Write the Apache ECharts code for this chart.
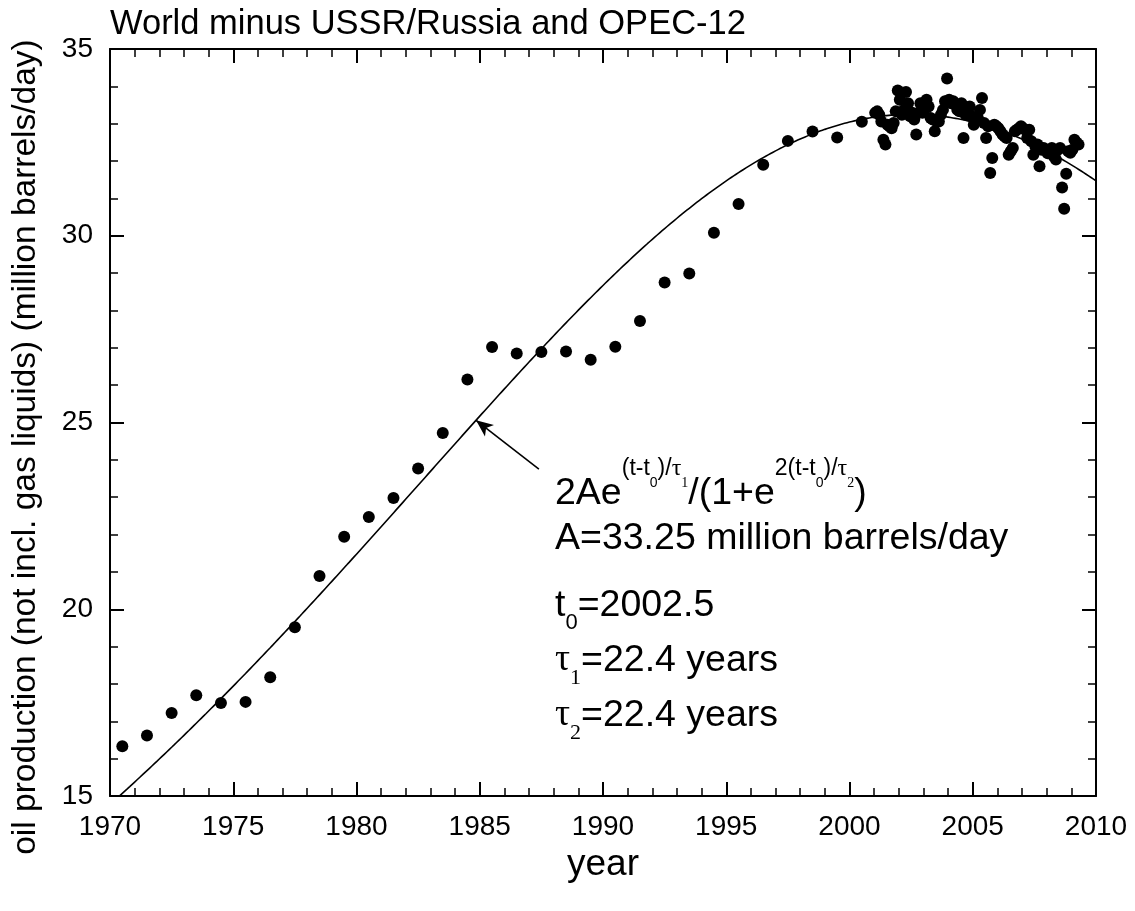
<!DOCTYPE html>
<html>
<head>
<meta charset="utf-8">
<script src="https://cdn.jsdelivr.net/npm/echarts@6/dist/echarts.min.js"></script>
<style>
  html, body { margin: 0; padding: 0; background: #fff; }
  #chart { width: 1135px; height: 911px; }
</style>
</head>
<body>
<div id="chart"></div>
<script>
// ---- texts ----
const titleText = 'World minus USSR/Russia and OPEC-12';
const xName = 'year';
const yName = 'oil production (not incl. gas liquids) (million barrels/day)';

// ---- tick labels ----
const xTicks = [1970, 1975, 1980, 1985, 1990, 1995, 2000, 2005, 2010];
const yTicks = [15, 20, 25, 30, 35];

// ---- annual averages (plotted at mid-year) ----
const annualYears = [1970, 1971, 1972, 1973, 1974, 1975, 1976, 1977, 1978, 1979,
                     1980, 1981, 1982, 1983, 1984, 1985, 1986, 1987, 1988, 1989,
                     1990, 1991, 1992, 1993, 1994, 1995, 1996, 1997, 1998, 1999, 2000];
const annualValues = [16.33, 16.62, 17.22, 17.70, 17.49, 17.52, 18.18, 19.52, 20.89, 21.94,
                      22.47, 22.98, 23.77, 24.72, 26.15, 27.02, 26.85, 26.89, 26.90, 26.68,
                      27.03, 27.72, 28.75, 28.99, 30.08, 30.85, 31.90, 32.54, 32.79, 32.63, 33.05];

// ---- monthly values from January 2001 ----
const monthlyStartYear = 2001;
const monthlyValues = [
  33.29, 33.33, 33.24, 33.06, 32.57, 32.44, 32.97, 32.93, 32.88, 33.02, 33.33, 33.89, // 2001
  33.64, 33.24, 33.37, 33.85, 33.55, 33.20, 33.29, 33.11, 32.71, 33.29, 33.55, 33.29, // 2002
  33.37, 33.64, 33.46, 33.15, 33.11, 32.80, 33.06, 33.06, 33.24, 33.37, 33.60, 34.21, // 2003
  33.64, 33.55, 33.60, 33.51, 33.37, 33.33, 33.55, 32.62, 33.24, 33.42, 33.46, 33.20, // 2004
  32.97, 33.11, 33.15, 33.37, 33.69, 33.02, 32.62, 32.93, 31.68, 32.08, 32.97, 32.93, // 2005
  32.88, 32.80, 32.71, 32.66, 32.62, 32.17, 32.26, 32.35, 32.80, 32.84, 32.88, 32.93, // 2006
  32.88, 32.84, 32.62, 32.84, 32.53, 32.17, 32.39, 32.44, 31.86, 32.30, 32.35, 32.30, // 2007
  32.21, 32.26, 32.35, 32.12, 32.04, 32.30, 32.35, 31.29, 30.72, 31.66, 32.26, 32.22, // 2008
  32.30, 32.57, 32.50, 32.44                                                          // 2009
];

// ---- fitted model parameters (shown in the annotation) ----
const fitA = 33.25;
const fitT0 = 2002.5;
const fitTau1 = 22.4;
const fitTau2 = 22.4;

// arrow from the annotation to the curve
const arrowTail = [1987.4, 23.75];
const arrowHeadYear = 1984.85;

// ---- helpers ----
function fitValue(t) {
  return 2 * fitA * Math.exp((t - fitT0) / fitTau1) / (1 + Math.exp(2 * (t - fitT0) / fitTau2));
}

const pointData = annualYears.map((y, i) => [y + 0.5, annualValues[i]])
  .concat(monthlyValues.map((v, i) => [monthlyStartYear + (i + 0.5) / 12, v]));

const xMin = xTicks[0], xMax = xTicks[xTicks.length - 1], xStep = xTicks[1] - xTicks[0];
const yMin = yTicks[0], yMax = yTicks[yTicks.length - 1], yStep = yTicks[1] - yTicks[0];

const curveData = [];
for (let k = 0; k <= (xMax - xMin) * 20; k++) {
  const t = xMin + k / 20;
  curveData.push([t, fitValue(t)]);
}

const SANS = '"Liberation Sans", Arial, sans-serif';
const SERIF = '"Liberation Serif", "Times New Roman", serif';
const BLACK = '#000';

function axisCommon(pos, showLabel) {
  return {
    type: 'value',
    position: pos,
    axisLine: { show: true, onZero: false, lineStyle: { color: BLACK, width: 2 } },
    axisTick: { show: true, inside: true, length: 14, lineStyle: { color: BLACK, width: 2 } },
    minorTick: { show: true, splitNumber: 5, length: 8, lineStyle: { color: BLACK, width: 1.5 } },
    splitLine: { show: false },
    minorSplitLine: { show: false },
    axisLabel: {
      show: showLabel, color: BLACK, fontSize: 28, fontFamily: SANS, margin: 17,
      formatter: v => String(v)
    }
  };
}

const xBottom = Object.assign(axisCommon('bottom', true), {
  min: xMin, max: xMax, interval: xStep,
  name: xName, nameLocation: 'middle', nameGap: 40,
  nameTextStyle: { color: BLACK, fontSize: 37, fontFamily: SANS }
});
const xTop = Object.assign(axisCommon('top', false), { min: xMin, max: xMax, interval: xStep });
const yLeft = Object.assign(axisCommon('left', true), { min: yMin, max: yMax, interval: yStep });
const yRight = Object.assign(axisCommon('right', false), { min: yMin, max: yMax, interval: yStep });

// rich text styles for the formula annotation
const MAIN = 37.5;
const rich = {
  m:   { font: MAIN + 'px ' + SANS, fill: BLACK, height: MAIN, verticalAlign: 'bottom' },
  s:   { font: '23px ' + SANS, fill: BLACK, height: 23, padding: [0, 0, 32, 0], verticalAlign: 'bottom' },
  st:  { font: '24px ' + SERIF, fill: BLACK, height: 23, padding: [0, 0, 32, 0], verticalAlign: 'bottom' },
  ss:  { font: '14px ' + SANS, fill: BLACK, height: 14, padding: [0, 0, 22.5, 0], verticalAlign: 'bottom' },
  sst: { font: '14px ' + SERIF, fill: BLACK, height: 14, padding: [0, 0, 22.5, 0], verticalAlign: 'bottom' },
  // lines with a subscript: main text raised, subscript on the bottom
  mr:  { font: MAIN + 'px ' + SANS, fill: BLACK, height: MAIN, padding: [0, 0, 10, 0], verticalAlign: 'bottom' },
  gr:  { font: MAIN + 'px ' + SERIF, fill: BLACK, height: MAIN, padding: [0, 0, 10, 0], verticalAlign: 'bottom' },
  sub: { font: '22px ' + SANS, fill: BLACK, height: 22, verticalAlign: 'bottom' },
  subt:{ font: '22px ' + SERIF, fill: BLACK, height: 22, verticalAlign: 'bottom' }
};

const formulaLines = [
  { y: 512.5, text: '{m|2Ae}{s|(t-t}{ss|0}{s|)/}{st|τ}{sst|1}{m|/(1+e}{s|2(t-t}{ss|0}{s|)/}{st|τ}{sst|2}{m|)}' },
  { y: 557.5, text: '{m|A=' + fitA + ' million barrels/day}' },
  { y: 634, text: '{mr|t}{sub|0}{mr|=' + fitT0 + '}' },
  { y: 689, text: '{gr|τ}{subt|1}{mr|=' + fitTau1 + ' years}' },
  { y: 744, text: '{gr|τ}{subt|2}{mr|=' + fitTau2 + ' years}' }
];

const chart = echarts.init(document.getElementById('chart'), null, { renderer: 'canvas' });

chart.setOption({
  animation: false,
  backgroundColor: '#fff',
  textStyle: { fontFamily: SANS, color: BLACK },
  grid: { left: 110, right: 39, top: 49, bottom: 115, containLabel: false },
  xAxis: [xBottom, xTop],
  yAxis: [yLeft, yRight],
  series: [
    {
      type: 'line',
      name: 'fit',
      xAxisIndex: 0, yAxisIndex: 0,
      data: curveData,
      showSymbol: false,
      symbol: 'none',
      clip: true,
      lineStyle: { color: BLACK, width: 1.6 },
      z: 2,
      markLine: {
        silent: true,
        animation: false,
        symbol: ['none', 'arrow'],
        symbolSize: [11, 17],
        label: { show: false },
        lineStyle: { color: BLACK, width: 1.6, type: 'solid' },
        data: [[
          { coord: arrowTail },
          { coord: [arrowHeadYear, fitValue(arrowHeadYear)] }
        ]]
      }
    },
    {
      type: 'scatter',
      name: 'production',
      xAxisIndex: 0, yAxisIndex: 0,
      data: pointData,
      symbol: 'circle',
      symbolSize: 12,
      itemStyle: { color: BLACK, opacity: 1 },
      z: 3
    }
  ],
  graphic: [
    {
      type: 'text', x: 110, y: 42, silent: true,
      style: { text: titleText, font: '34.5px ' + SANS, fill: BLACK, align: 'left', verticalAlign: 'bottom' }
    },
    {
      type: 'text', x: 26, y: 447, rotation: Math.PI / 2, silent: true,
      style: { text: yName, font: '33.5px ' + SANS, fill: BLACK, align: 'center', verticalAlign: 'middle' }
    }
  ].concat(formulaLines.map(l => ({
    type: 'text', x: 555, y: l.y, silent: true,
    style: { text: l.text, rich: rich, align: 'left', verticalAlign: 'bottom', fill: BLACK, font: MAIN + 'px ' + SANS }
  })))
});
</script>
</body>
</html>
